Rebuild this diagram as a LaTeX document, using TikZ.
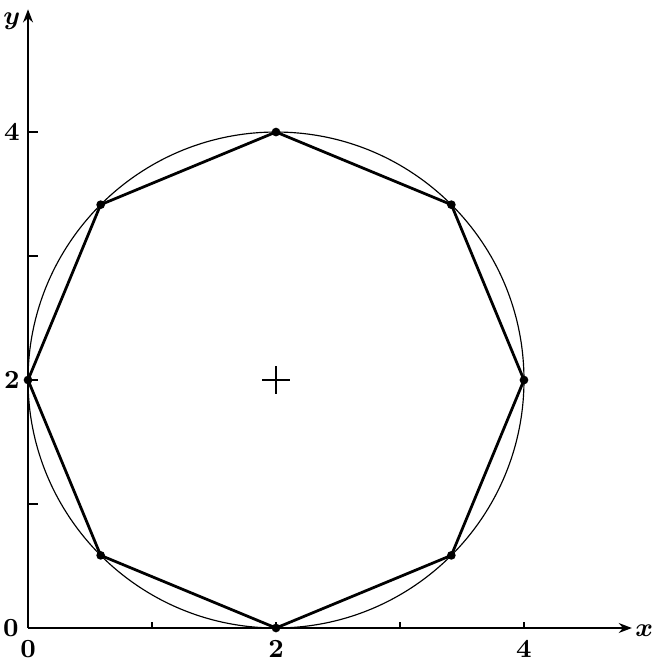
\documentclass[tikz,border=0pt]{standalone}
\usepackage{amsmath}
\usepackage{tikz}
\usetikzlibrary{arrows.meta, positioning, calc}
\tikzset{
  axis/.style={line width=0.8pt, -{Stealth[length=4.5pt, width=3.4pt]}},
  tick/.style={line width=0.5pt},
  circ/.style={line width=0.4pt},
  poly/.style={line width=0.95pt, line join=round},
  vert/.style={circle, fill=black, inner sep=0pt, minimum size=3pt},
  lab/.style={font=\small\bfseries, inner sep=1pt},
}

\begin{document}
\begin{tikzpicture}[x=1.5cm, y=1.5cm]
\useasboundingbox (-0.226,-0.25) rectangle (5.048,5.065);
% axes
\coordinate (o) at (0,0);
\coordinate (xend) at (4.87,0);
\coordinate (yend) at (0,4.99);
\draw[axis] (o) -- (xend);
\draw[axis] (o) -- (yend);
\node[lab, right=0.5pt of xend, inner sep=0.5pt, yshift=-1pt] (xl) {$\boldsymbol{x}$};
\node[lab, left=1.5pt of yend, yshift=-4pt] (yl) {$\boldsymbol{y}$};
\foreach \t in {1,2,3,4}{
  \draw[tick] (\t,0) -- (\t,0.05);
  \draw[tick] (0,\t) -- (0.08,\t);
}
\node[lab, below=3pt of o] (x0) {0};
\node[lab, left=2pt of o] (y0) {0};
\node[lab] (x2) at (2,-0.17) {2};
\node[lab] (x4) at (4,-0.17) {4};
\node[lab] (y2) at (-0.13,2) {2};
\node[lab] (y4) at (-0.13,4) {4};
% circle and centre
\coordinate (c) at (2,2);
\draw[circ] (c) circle (2);
\draw[line width=0.6pt] ([xshift=-0.11*1.5cm]c) -- ([xshift=0.11*1.5cm]c)
  ([yshift=-0.11*1.5cm]c) -- ([yshift=0.11*1.5cm]c);
% octagon
\foreach \i in {0,...,7}{
  \coordinate (v\i) at ($(c)+(\i*45-90:2)$);
}
\draw[poly] (v0) -- (v1) -- (v2) -- (v3) -- (v4) -- (v5) -- (v6) -- (v7) -- cycle;
\foreach \i in {0,...,7}{
  \node[vert] (p\i) at (v\i) {};
}
\end{tikzpicture}
\end{document}
